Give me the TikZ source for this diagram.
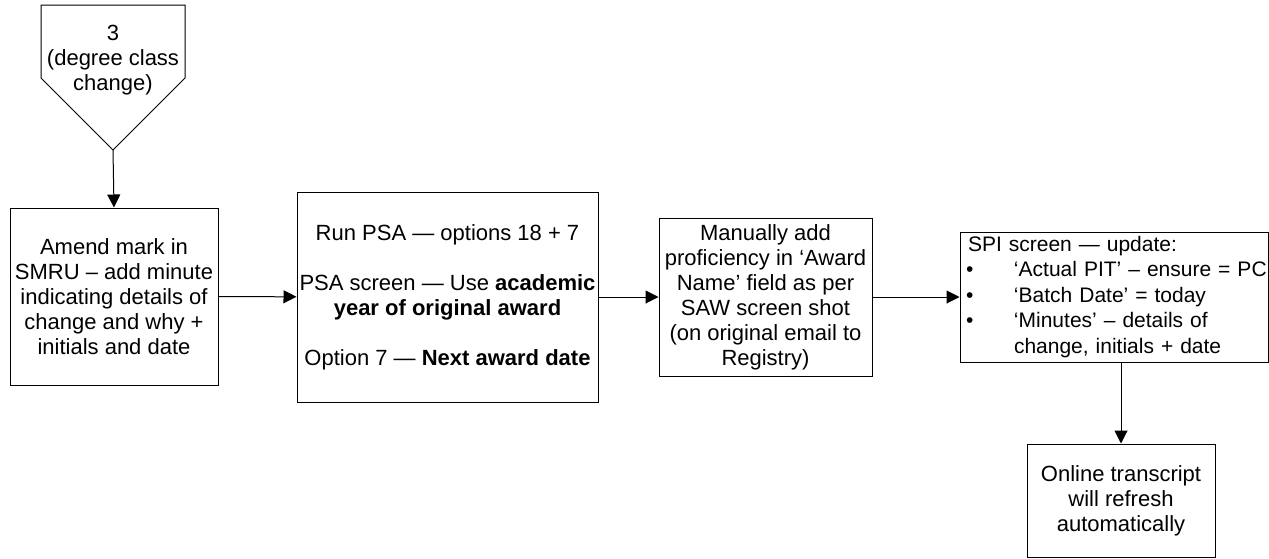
\documentclass[tikz,border=0pt]{standalone}
\usepackage{fontspec}
\setmainfont{Liberation Sans}
\usetikzlibrary{arrows.meta}

\tikzset{
  flowbox/.style={draw, line width=1pt, inner sep=0pt, align=center,
    font=\fontsize{22}{25}\selectfont},
  flowarrow/.style={line width=1pt, -{Triangle[length=13pt, width=13pt]}},
}
% one bulleted entry of the SPI list
\newcommand{\spiitem}[1]{\mbox{\hspace*{6pt}\makebox[48pt][l]{•}#1}}

\begin{document}
\begin{tikzpicture}[x=1pt, y=-1pt]
  \useasboundingbox (0,0) rectangle (1269,558);

  % off-page connector holding the step number
  \draw[line width=1pt] (41,5) -- (185,5) -- (185,78) -- (113,150) -- (41,78) -- cycle;
  \coordinate (tip) at (113,150);
  \node[align=center, font=\fontsize{22}{25}\selectfont] (start) at (113,60)
    {3\\(degree class\\change)};

  \node[flowbox, minimum width=208pt, minimum height=177pt] (amend) at (114,296.5)
    {Amend mark in\\SMRU – add minute\\indicating details of\\change and why +\\initials and date};

  \node[flowbox, minimum width=301pt, minimum height=210pt] (psa) at (447.5,297)
    {Run PSA — options 18 + 7\\[25pt]PSA screen — Use \textbf{academic}\\\textbf{year of original award}\\[25pt]Option 7 — \textbf{Next award date}};

  \node[flowbox, minimum width=213pt, minimum height=158pt] (prof) at (765.5,297)
    {Manually add\\proficiency in ‘Award\\Name’ field as per\\SAW screen shot\\(on original email to\\Registry)};

  \node[flowbox, align=left, text width=308pt, minimum height=130pt,
        font=\fontsize{21}{25.5}\selectfont] (spi) at (1114,297)
    {\mbox{\hspace*{8pt}SPI screen — update:}\\
     \spiitem{‘Actual PIT’ – ensure = PC}\\
     \spiitem{‘Batch Date’ = today}\\
     \spiitem{‘Minutes’ – details of}\\
     \mbox{\hspace*{54pt}change, initials + date}};

  \node[flowbox, minimum width=188pt, minimum height=113pt] (online) at (1121,500.5)
    {Online transcript\\will refresh\\automatically};

  \draw[flowarrow] (tip) -- (amend.north);
  \draw[flowarrow] (amend) -- (psa);
  \draw[flowarrow] (psa) -- (prof);
  \draw[flowarrow] (prof) -- (spi);
  \draw[flowarrow] (spi.south -| online.north) -- (online.north);
\end{tikzpicture}
\end{document}
